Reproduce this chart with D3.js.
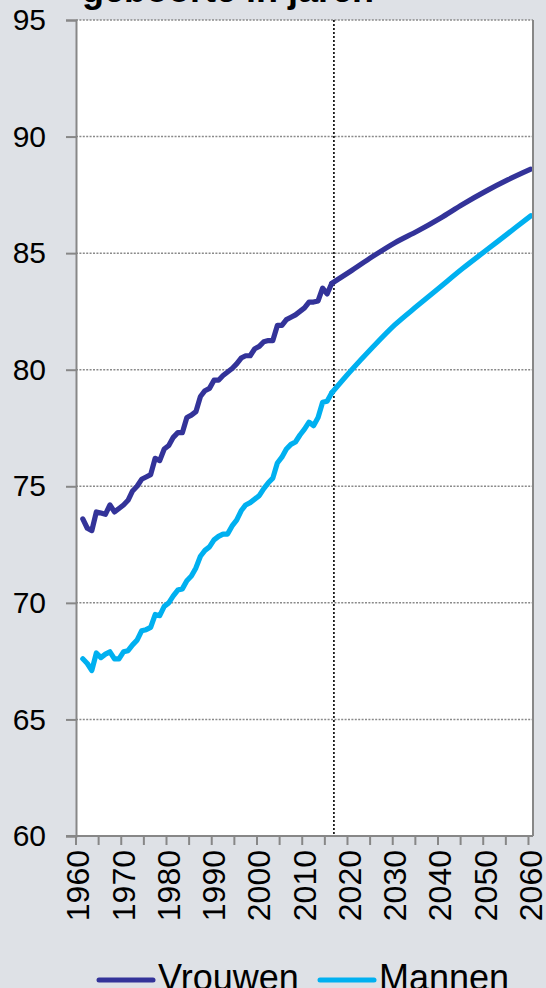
<!DOCTYPE html>
<html>
<head>
<meta charset="utf-8">
<script src="https://cdn.jsdelivr.net/npm/d3@7"></script>
<style>
  html, body { margin: 0; padding: 0; background: #dee1e6; }
  svg { display: block; font-family: "Liberation Sans", Arial, sans-serif; }
</style>
</head>
<body>
<div id="chart"></div>
<script>
// observed years 1961-2016, projections read every 5 years
const histYears = d3.range(1961, 2017);
const vrouwenHist = [
  73.6, 73.2, 73.1, 73.9, 73.85, 73.8, 74.2, 73.9, 74.05, 74.2,
  74.4, 74.8, 75.0, 75.3, 75.4, 75.5, 76.2, 76.1, 76.6, 76.75,
  77.1, 77.3, 77.3, 77.95, 78.05, 78.2, 78.85, 79.1, 79.2, 79.55,
  79.55, 79.75, 79.9, 80.05, 80.25, 80.5, 80.6, 80.6, 80.9, 81.0,
  81.2, 81.25, 81.25, 81.9, 81.9, 82.15, 82.25, 82.35, 82.5, 82.65,
  82.9, 82.9, 82.95, 83.5, 83.25, 83.7
];
const mannenHist = [
  67.6, 67.4, 67.1, 67.85, 67.65, 67.8, 67.9, 67.6, 67.6, 67.9,
  67.95, 68.2, 68.4, 68.8, 68.85, 68.95, 69.5, 69.45, 69.85, 70.0,
  70.3, 70.55, 70.6, 70.95, 71.15, 71.5, 72.0, 72.25, 72.4, 72.7,
  72.85, 72.95, 72.95, 73.3, 73.55, 73.95, 74.2, 74.3, 74.45, 74.6,
  74.9, 75.15, 75.35, 76.0, 76.25, 76.6, 76.8, 76.9, 77.2, 77.45,
  77.75, 77.6, 77.95, 78.6, 78.65, 79.0
];
const projYears = [2016, 2020, 2025, 2030, 2035, 2040, 2045, 2050, 2055, 2060];
const vrouwenProj = [83.7, 84.2, 84.85, 85.45, 85.95, 86.5, 87.1, 87.65, 88.15, 88.6];
const mannenProj = [79.0, 79.9, 80.95, 81.93, 82.75, 83.55, 84.35, 85.1, 85.85, 86.6];

const yTicks = [60, 65, 70, 75, 80, 85, 90, 95];
const xLabelYears = d3.range(1960, 2061, 10);
const xTickYears = d3.range(1960, 2061, 5);
const forecastStart = 2017;

const seriesInfo = [
  { name: "Vrouwen", color: "#333399", hist: vrouwenHist, proj: vrouwenProj },
  { name: "Mannen", color: "#00b0f0", hist: mannenHist, proj: mannenProj },
];

const width = 546, height = 988;
const plot = { left: 76, right: 533, top: 20, bottom: 836 };

const svg = d3.select("#chart").append("svg")
  .attr("width", width)
  .attr("height", height);

svg.append("rect").attr("width", width).attr("height", height).attr("fill", "#dee1e6");

// category style axis: one slot per year, 1960 .. 2060
const x = d3.scaleLinear().domain([1960, 2061]).range([plot.left, plot.right]);
const y = d3.scaleLinear().domain([60, 95]).range([plot.bottom, plot.top]);

svg.append("rect")
  .attr("x", plot.left).attr("y", plot.top)
  .attr("width", plot.right - plot.left).attr("height", plot.bottom - plot.top)
  .attr("fill", "#fff");

// gridlines
svg.append("g")
  .selectAll("line")
  .data(yTicks.filter((d) => d !== 60))
  .join("line")
  .attr("x1", plot.left).attr("x2", plot.right)
  .attr("y1", (d) => y(d)).attr("y2", (d) => y(d))
  .attr("stroke", "#8a8a8a")
  .attr("stroke-width", 1.5)
  .attr("stroke-dasharray", "2 1.4");

// forecast divider
svg.append("line")
  .attr("x1", x(forecastStart)).attr("x2", x(forecastStart))
  .attr("y1", plot.top).attr("y2", plot.bottom)
  .attr("stroke", "#000")
  .attr("stroke-width", 1.6)
  .attr("stroke-dasharray", "2 2");

// lines
const line = d3.line()
  .x((d) => x(d.year + 0.5))
  .y((d) => y(d.value));
const smooth = d3.line()
  .x((d) => x(d.year + 0.5))
  .y((d) => y(d.value))
  .curve(d3.curveMonotoneX);

seriesInfo.forEach((s) => {
  const hist = histYears.map((yr, i) => ({ year: yr, value: s.hist[i] }));
  const proj = projYears.map((yr, i) => ({ year: yr, value: s.proj[i] }));
  svg.append("path")
    .datum(hist)
    .attr("fill", "none")
    .attr("stroke", s.color)
    .attr("stroke-width", 5.2)
    .attr("stroke-linejoin", "round")
    .attr("stroke-linecap", "round")
    .attr("d", line);
  svg.append("path")
    .datum(proj)
    .attr("fill", "none")
    .attr("stroke", s.color)
    .attr("stroke-width", 5.2)
    .attr("stroke-linecap", "round")
    .attr("d", smooth);
});

// axes
const axisColor = "#878787";
const yAxis = d3.axisLeft(y).tickValues(yTicks).tickSize(10).tickPadding(20);
svg.append("g")
  .attr("transform", `translate(${plot.left},0)`)
  .call(yAxis)
  .call((g) => g.select(".domain").attr("stroke", axisColor).attr("stroke-width", 2))
  .call((g) => g.selectAll(".tick line").attr("stroke", axisColor).attr("stroke-width", 2))
  .call((g) => g.selectAll("text")
    .attr("fill", "#000")
    .attr("font-size", 30)
    .attr("font-family", "'Liberation Sans', Arial, sans-serif"));

// bottom axis line + ticks at year boundaries
svg.append("line")
  .attr("x1", plot.left - 10).attr("x2", plot.right)
  .attr("y1", plot.bottom).attr("y2", plot.bottom)
  .attr("stroke", axisColor).attr("stroke-width", 2);
svg.append("g")
  .selectAll("line")
  .data(xTickYears)
  .join("line")
  .attr("x1", (d) => x(d)).attr("x2", (d) => x(d))
  .attr("y1", plot.bottom).attr("y2", plot.bottom + 9)
  .attr("stroke", axisColor).attr("stroke-width", 2);

// right border
svg.append("line")
  .attr("x1", plot.right).attr("x2", plot.right)
  .attr("y1", plot.top).attr("y2", plot.bottom)
  .attr("stroke", axisColor).attr("stroke-width", 2);

// rotated year labels
svg.append("g")
  .selectAll("text")
  .data(xLabelYears)
  .join("text")
  .attr("transform", (d) => `translate(${x(d + 0.5)},${plot.bottom + 14}) rotate(-90)`)
  .attr("text-anchor", "end")
  .attr("dy", "0.35em")
  .attr("font-size", 32)
  .attr("fill", "#000")
  .text((d) => d);

// title (last line visible at top)
svg.append("text")
  .attr("x", 82)
  .attr("y", 2)
  .attr("font-size", 36)
  .attr("font-weight", "bold")
  .attr("fill", "#000")
  .text("geboorte in jaren");

// legend
const legendItems = [
  { name: "Vrouwen", color: "#333399", x0: 99 },
  { name: "Mannen", color: "#00b0f0", x0: 320 },
];
const legend = svg.append("g");
legendItems.forEach((d) => {
  legend.append("line")
    .attr("x1", d.x0).attr("x2", d.x0 + 54)
    .attr("y1", 980).attr("y2", 980)
    .attr("stroke", d.color)
    .attr("stroke-width", 5)
    .attr("stroke-linecap", "round");
  legend.append("text")
    .attr("x", d.x0 + 59)
    .attr("y", 990)
    .attr("font-size", 36)
    .attr("fill", "#000")
    .text(d.name);
});
</script>
</body>
</html>
